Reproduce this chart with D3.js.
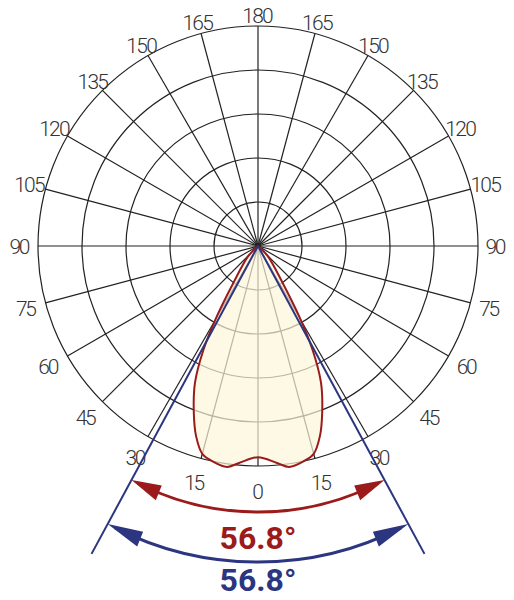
<!DOCTYPE html>
<html><head><meta charset="utf-8">
<script src="https://cdn.jsdelivr.net/npm/d3@7"></script>
<style>body{margin:0;background:#fff}</style>
</head><body>
<div id="viz"></div>
<script>
var width=514, height=600;
var cx=258, cy=246;

// polar grid
var ringValues=[100,200,300,400,500];
var spokeAngles=d3.range(0,360,15);
var tickLabels=[0,15,30,45,60,75,90,105,120,135,150,165,180,165,150,135,120,105,90,75,60,45,30,15];

// luminous intensity curve (deg from nadir, value)
var curveAngles=[0,5,8,12,15,18,21,24.7,27.7,30.3,33.7,44,60];
var curveValues=[480,495,507,500,489,455,407,343,267,186,101,32,0];

// beam angles
var beamRed=56.8, beamBlue=56.8;

var rScale=d3.scaleLinear().domain([0,500]).range([0,220]);
var rad=function(deg){return (180+deg)*Math.PI/180;}; // 0 deg points down

var svg=d3.select("#viz").append("svg").attr("width",width).attr("height",height);
var g=svg.append("g").attr("transform","translate("+cx+","+cy+")");

g.selectAll("circle.ring").data(ringValues).enter().append("circle")
  .attr("r",function(d){return rScale(d);})
  .attr("fill","none").attr("stroke","#222").attr("stroke-width",1.2);

g.selectAll("line.spoke").data(spokeAngles).enter().append("line")
  .attr("x1",0).attr("y1",0)
  .attr("x2",function(d){return rScale(500)*Math.sin(rad(d));})
  .attr("y2",function(d){return -rScale(500)*Math.cos(rad(d));})
  .attr("stroke","#222").attr("stroke-width",1.2);

var labelR=function(i){return 238+7*Math.cos(i*15*Math.PI/180);};
g.selectAll("text.tick").data(tickLabels).enter().append("text")
  .attr("x",function(d,i){return labelR(i)*Math.sin(rad(i*15));})
  .attr("y",function(d,i){return -labelR(i)*Math.cos(rad(i*15));})
  .attr("dy","0.36em").attr("text-anchor","middle")
  .attr("font-family","Roboto").attr("font-weight",300).attr("font-size",21).attr("fill","#333")
  .attr("textLength",function(d){return String(d).length*10.5;})
  .text(function(d){return d;});

// curve
var pts=[];
for(var i=curveAngles.length-1;i>0;i--) pts.push([-curveAngles[i],curveValues[i]]);
for(var i=0;i<curveAngles.length;i++) pts.push([curveAngles[i],curveValues[i]]);
var line=d3.lineRadial()
  .angle(function(d){return rad(d[0]);})
  .radius(function(d){return rScale(d[1]);})
  .curve(d3.curveCatmullRomClosed);
g.append("path").attr("d",line(pts))
  .attr("fill","#fdf6d8").attr("fill-opacity",0.7)
  .attr("stroke","#9b1b1b").attr("stroke-width",2);

// beam lines and arcs
function beam(angle,lineLen,arcR,color){
  var h=angle/2;
  if(lineLen){
    [-h,h].forEach(function(a){
      g.append("line").attr("x1",0).attr("y1",0)
        .attr("x2",lineLen*Math.sin(rad(a))).attr("y2",-lineLen*Math.cos(rad(a)))
        .attr("stroke",color).attr("stroke-width",2);
    });
  }
  var arc=d3.arc().innerRadius(arcR).outerRadius(arcR)
    .startAngle(rad(-h+1.5)).endAngle(rad(h-1.5));
  g.append("path").attr("d",arc()).attr("fill","none").attr("stroke",color).attr("stroke-width",3);
  [-h,h].forEach(function(a){
    var s=a<0?1:-1;
    var tip=[arcR*Math.sin(rad(a)),-arcR*Math.cos(rad(a))];
    var b=a+s*6.5, bx=(arcR)*Math.sin(rad(b)), by=-(arcR)*Math.cos(rad(b));
    var nx=Math.sin(rad(b)), ny=-Math.cos(rad(b));
    g.append("path")
      .attr("d","M"+tip+"L"+[bx+nx*8,by+ny*8]+"L"+[bx-nx*8,by-ny*8]+"Z")
      .attr("fill",color);
  });
}
beam(beamRed,0,266,"#9b1b1b");
beam(beamBlue,350,316,"#2b3580");

svg.append("text").attr("x",cx).attr("y",549).attr("text-anchor","middle")
  .attr("font-family","Roboto").attr("font-weight",700).attr("font-size",32).attr("fill","#9b1b1b")
  .text(beamRed+"°");
svg.append("text").attr("x",cx).attr("y",591).attr("text-anchor","middle")
  .attr("font-family","Roboto").attr("font-weight",700).attr("font-size",32).attr("fill","#2b3580")
  .text(beamBlue+"°");
</script>
</body></html>
